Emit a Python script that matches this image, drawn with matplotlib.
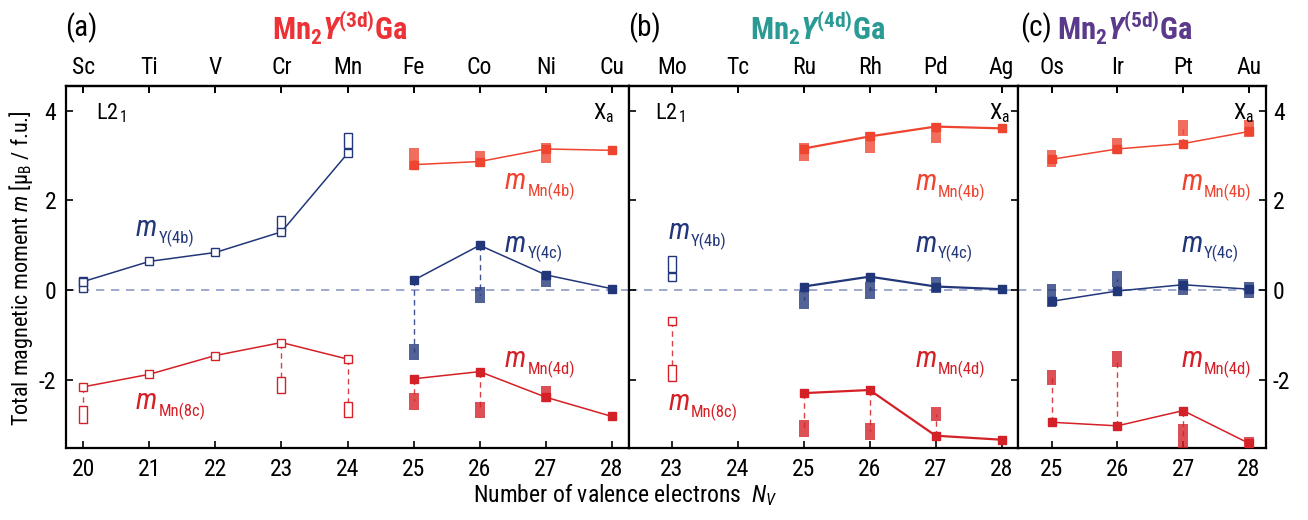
import numpy as np
import matplotlib
import matplotlib.pyplot as plt
from matplotlib import font_manager as fm

# pick a narrow sans if available
names = {f.name for f in fm.fontManager.ttflist}
FONT = next((n for n in ["Liberation Sans Narrow", "Roboto Condensed", "Roboto"] if n in names), "DejaVu Sans")

plt.rcParams["font.family"] = [FONT, "DejaVu Sans"]
plt.rcParams["mathtext.fontset"] = "custom"
plt.rcParams["mathtext.rm"] = FONT
plt.rcParams["mathtext.it"] = FONT + ":italic"
plt.rcParams["mathtext.bf"] = FONT + ":bold"
plt.rcParams["mathtext.bfit"] = FONT + ":italic:bold"
plt.rcParams["axes.unicode_minus"] = False

nan = np.nan

# ---- (a) Mn2Y(3d)Ga ----
elem_a = ["Sc", "Ti", "V", "Cr", "Mn", "Fe", "Co", "Ni", "Cu"]
nv_a = [20, 21, 22, 23, 24, 25, 26, 27, 28]
# L2_1 (open symbols)
nv_l21_a = [20, 21, 22, 23, 24]
y4b_a = [0.19, 0.64, 0.84, 1.30, 3.05]
y4b_a_lo = [0.04, nan, nan, 1.40, 3.26]
y4b_a_hi = [0.21, nan, nan, 1.57, 3.41]
mn8c_a = [-2.16, -1.88, -1.46, -1.17, -1.54]
mn8c_a_lo = [-2.88, nan, nan, -2.21, -2.74]
mn8c_a_hi = [-2.67, nan, nan, -2.03, -2.58]
# X_a (filled symbols)
nv_xa_a = [25, 26, 27, 28]
mn4b_a = [2.80, 2.87, 3.15, 3.12]
mn4b_a_lo = [2.78, 2.84, 2.93, nan]
mn4b_a_hi = [3.08, 3.02, 3.19, nan]
y4c_a = [0.22, 1.00, 0.34, 0.03]
y4c_a_lo = [-1.48, -0.19, 0.17, nan]
y4c_a_hi = [-1.29, -0.02, 0.30, nan]
mn4d_a = [-1.98, -1.82, -2.39, -2.82]
mn4d_a_lo = [-2.58, -2.77, -2.40, nan]
mn4d_a_hi = [-2.39, -2.58, -2.24, nan]

# ---- (b) Mn2Y(4d)Ga ----
elem_b = ["Mo", "Tc", "Ru", "Rh", "Pd", "Ag"]
nv_b = [23, 24, 25, 26, 27, 28]
nv_l21_b = [23]
y4b_b = [0.30]
y4b_b_lo = [0.49]
y4b_b_hi = [0.66]
mn8c_b = [-0.70]
mn8c_b_lo = [-1.94]
mn8c_b_hi = [-1.76]
nv_xa_b = [25, 26, 27, 28]
mn4b_b = [3.16, 3.43, 3.65, 3.61]
mn4b_b_lo = [2.98, 3.15, 3.37, nan]
mn4b_b_hi = [3.19, 3.44, 3.63, nan]
y4c_b = [0.08, 0.30, 0.08, 0.02]
y4c_b_lo = [-0.33, -0.10, 0.02, nan]
y4c_b_hi = [-0.12, 0.10, 0.21, nan]
mn4d_b = [-2.30, -2.23, -3.25, -3.34]
mn4d_b_lo = [-3.19, -3.25, -2.84, nan]
mn4d_b_hi = [-3.00, -3.06, -2.69, nan]

# ---- (c) Mn2Y(5d)Ga ----
elem_c = ["Os", "Ir", "Pt", "Au"]
nv_c = [25, 26, 27, 28]
mn4b_c = [2.92, 3.15, 3.27, 3.54]
mn4b_c_lo = [2.84, 3.13, 3.52, 3.51]
mn4b_c_hi = [3.03, 3.30, 3.70, 3.70]
y4c_c = [-0.25, -0.02, 0.12, 0.02]
y4c_c_lo = [-0.28, 0.16, -0.02, -0.08]
y4c_c_hi = [0.05, 0.33, 0.16, 0.10]
mn4d_c = [-2.95, -3.03, -2.69, -3.42]
mn4d_c_lo = [-2.02, -1.63, -3.45, -3.50]
mn4d_c_hi = [-1.87, -1.46, -3.07, -3.38]

NAVY = "#22367a"
RED = "#d42027"
ORANGE = "#ee4430"
ZERO = "#8e9bc6"
PAD = 0.09  # half height of a square marker in moment units


def draw_series(ax, nv, main, lo, hi, color, filled, lw):
    nv, main = np.asarray(nv, float), np.asarray(main, float)
    lo, hi = np.asarray(lo, float), np.asarray(hi, float)
    ok = ~np.isnan(lo)
    # dashed link between the value on the line and the other result
    for x, m, l, h in zip(nv[ok], main[ok], lo[ok], hi[ok]):
        ax.plot([x, x], [m, (l + h) / 2], ls=(0, (4, 3)), color=color,
                lw=1.0, alpha=0.85, zorder=2)
    if filled:
        ax.bar(nv[ok], hi[ok] - lo[ok] + 2 * PAD, bottom=lo[ok] - PAD, width=0.15,
               color=color, alpha=0.78, lw=0, zorder=3)
        ax.plot(nv, main, "-s", color=color, ms=6, lw=lw, zorder=4)
    else:
        ax.bar(nv[ok], hi[ok] - lo[ok] + 2 * PAD, bottom=lo[ok] - PAD, width=0.12,
               facecolor="white", edgecolor=color, lw=1.0, zorder=3)
        ax.plot(nv, main, "-s", color=color, mfc="white", mec=color, ms=6,
                mew=1.0, lw=lw, zorder=4)


def m_label(ax, x, y, sub, color):
    t = ax.text(x, y, "m", fontsize=21, style="italic", color=color,
                ha="left", va="baseline")
    ax.annotate(sub, xy=(1, 0), xycoords=t, xytext=(1, -3.5),
                textcoords="offset points", fontsize=12, color=color,
                ha="left", va="bottom")


fig = plt.figure(figsize=(13.08, 5.2), dpi=100)
bottom, height = 0.138, 0.697
ax_a = fig.add_axes([0.0505, bottom, 0.4304, height])
ax_b = fig.add_axes([0.4809, bottom, 0.2974, height])
ax_c = fig.add_axes([0.7783, bottom, 0.1896, height])

panels = [
    (ax_a, nv_a, elem_a, (19.74, 28.26)),
    (ax_b, nv_b, elem_b, (22.35, 28.25)),
    (ax_c, nv_c, elem_c, (24.49, 28.26)),
]
for ax, nv, elem, xlim in panels:
    ax.set_xlim(*xlim)
    ax.set_ylim(-3.53, 4.56)
    ax.axhline(0, color=ZERO, lw=1.2, ls=(0, (5, 4)), zorder=1)
    ax.set_xticks(nv)
    ax.set_yticks([-2, 0, 2, 4])
    ax.tick_params(axis="both", direction="in", length=5, width=1.2,
                   labelsize=17, pad=7)
    ax.tick_params(axis="x", top=True)
    top = ax.secondary_xaxis("top")
    top.set_xticks(nv, elem)
    top.tick_params(direction="in", length=5, width=1.2, labelsize=17, pad=5)
    for s in list(ax.spines.values()) + list(top.spines.values()):
        s.set_linewidth(1.6)

ax_a.tick_params(axis="y", left=True, right=False, labelleft=True)
ax_b.tick_params(axis="y", left=True, right=True, labelleft=False)
ax_c.tick_params(axis="y", left=False, right=True, labelleft=False,
                 labelright=True, pad=5)

# (a)
draw_series(ax_a, nv_l21_a, y4b_a, y4b_a_lo, y4b_a_hi, NAVY, False, 1.1)
draw_series(ax_a, nv_l21_a, mn8c_a, mn8c_a_lo, mn8c_a_hi, RED, False, 1.1)
draw_series(ax_a, nv_xa_a, mn4b_a, mn4b_a_lo, mn4b_a_hi, ORANGE, True, 1.1)
draw_series(ax_a, nv_xa_a, y4c_a, y4c_a_lo, y4c_a_hi, NAVY, True, 1.1)
draw_series(ax_a, nv_xa_a, mn4d_a, mn4d_a_lo, mn4d_a_hi, RED, True, 1.1)
# (b)
draw_series(ax_b, nv_l21_b, y4b_b, y4b_b_lo, y4b_b_hi, NAVY, False, 1.6)
draw_series(ax_b, nv_l21_b, mn8c_b, mn8c_b_lo, mn8c_b_hi, RED, False, 1.6)
draw_series(ax_b, nv_xa_b, mn4b_b, mn4b_b_lo, mn4b_b_hi, ORANGE, True, 1.6)
draw_series(ax_b, nv_xa_b, y4c_b, y4c_b_lo, y4c_b_hi, NAVY, True, 1.6)
draw_series(ax_b, nv_xa_b, mn4d_b, mn4d_b_lo, mn4d_b_hi, RED, True, 1.6)
# (c)
draw_series(ax_c, nv_c, mn4b_c, mn4b_c_lo, mn4b_c_hi, ORANGE, True, 1.1)
draw_series(ax_c, nv_c, y4c_c, y4c_c_lo, y4c_c_hi, NAVY, True, 1.1)
draw_series(ax_c, nv_c, mn4d_c, mn4d_c_lo, mn4d_c_hi, RED, True, 1.1)

# site labels
m_label(ax_a, 20.80, 1.20, "Y(4b)", NAVY)
m_label(ax_a, 20.80, -2.66, "Mn(8c)", RED)
m_label(ax_a, 26.38, 2.25, "Mn(4b)", ORANGE)
m_label(ax_a, 26.38, 0.86, "Y(4c)", NAVY)
m_label(ax_a, 26.38, -1.72, "Mn(4d)", RED)
m_label(ax_b, 22.95, 1.14, "Y(4b)", NAVY)
m_label(ax_b, 22.95, -2.67, "Mn(8c)", RED)
m_label(ax_b, 26.69, 2.24, "Mn(4b)", ORANGE)
m_label(ax_b, 26.69, 0.86, "Y(4c)", NAVY)
m_label(ax_b, 26.69, -1.72, "Mn(4d)", RED)
m_label(ax_c, 26.97, 2.24, "Mn(4b)", ORANGE)
m_label(ax_c, 26.97, 0.86, "Y(4c)", NAVY)
m_label(ax_c, 26.97, -1.72, "Mn(4d)", RED)

# structure labels
l21 = r"$\mathregular{L2_{\,1}}$"
xa = r"$\mathregular{X_a}$"
ax_a.text(20.20, 3.82, l21, fontsize=16, va="baseline")
ax_b.text(22.75, 3.82, l21, fontsize=16, va="baseline")
ax_a.text(28.04, 3.82, xa, fontsize=16, ha="right", va="baseline")
ax_b.text(28.13, 3.82, xa, fontsize=16, ha="right", va="baseline")
ax_c.text(28.08, 3.82, xa, fontsize=16, ha="right", va="baseline")

# panel titles
title = r"$\mathbf{Mn_2}\mathbfit{Y}^{\mathbf{(%s)}}\mathbf{Ga}$"
for lx, tx, tag, shell, col in [(0.050, 0.260, "(a)", "3d", "#ec3237"),
                                (0.480, 0.625, "(b)", "4d", "#2a9a94"),
                                (0.780, 0.860, "(c)", "5d", "#5b3a8c")]:
    fig.text(lx, 0.946, tag, fontsize=21, ha="left", va="center")
    fig.text(tx, 0.946, title % shell, fontsize=22, color=col,
             ha="center", va="center")

fig.text(0.016, 0.485, r"Total magnetic moment $\mathit{m}$ [μ$_\mathregular{B}$ / f.u.]",
         rotation=90, fontsize=16, ha="center", va="center")
fig.text(0.478, 0.048, r"Number of valence electrons  $\mathit{N_V}$",
         fontsize=17, ha="center", va="center")

fig.savefig("out.png", dpi=100)
